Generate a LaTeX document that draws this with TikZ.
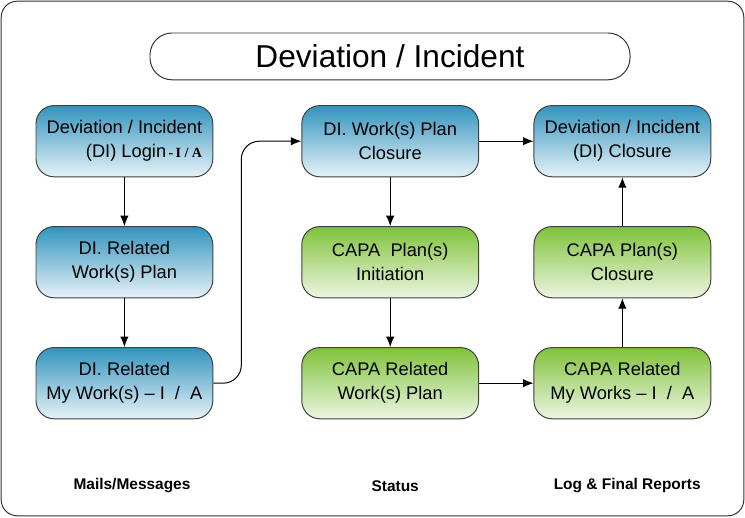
\documentclass[tikz,border=0pt]{standalone}
\usepackage{fontspec}
\setmainfont{Liberation Sans}
\newfontfamily\timesbold{Liberation Serif}
\usetikzlibrary{arrows.meta,positioning}

\definecolor{diblue}{RGB}{50,148,190}
\definecolor{capagreen}{RGB}{128,194,58}

\begin{document}
\begin{tikzpicture}[
diboxnode/.style={rectangle, rounded corners=0.45cm, draw=black!75, line width=0.7pt,
  top color=diblue, bottom color=diblue!12, minimum width=4.42cm, minimum height=1.78cm,
  align=center, font=\fontsize{13}{17}\selectfont},
capanode/.style={diboxnode, top color=capagreen, bottom color=capagreen!15},
titlenode/.style={rectangle, rounded corners=0.55cm, draw=black!80, line width=0.7pt,
  minimum width=12cm, minimum height=1.17cm, font=\fontsize{22.5}{26}\selectfont},
colnode/.style={font=\fontsize{11}{13}\selectfont\bfseries},
flow/.style={line width=0.7pt, arrows={-Latex[length=2.6mm,width=2.1mm]}}]
\useasboundingbox (0,0) rectangle (18.625,-12.925);
\draw[line width=0.7pt, black!80, rounded corners=0.4cm] (0.03,-0.03) rectangle (18.595,-12.895);
% Title
\node[titlenode] (title) at (9.75,-1.41) {Deviation / Incident};
% Nodes
\node[diboxnode, align=right] (login) at (3.11,-3.53) {Deviation / Incident\\(DI) Login{\timesbold\bfseries\fontsize{10}{12}\selectfont\,-\,I / A}};
\node[diboxnode] (diplan) [below=1.22cm of login] {DI. Related\\Work(s) Plan};
\node[diboxnode] (mywork) [below=1.22cm of diplan] {DI. Related\\My Work(s) – I \ / \ A};
\node[diboxnode] (plclose) [right=2.2cm of login] {DI. Work(s) Plan\\Closure};
\node[capanode] (capainit) [below=1.22cm of plclose] {CAPA\ \ Plan(s)\\Initiation};
\node[capanode] (capaplan) [below=1.22cm of capainit] {CAPA Related\\Work(s) Plan};
\node[diboxnode] (diclose) [right=1.36cm of plclose] {Deviation / Incident\\(DI) Closure};
\node[capanode] (capaclose) [below=1.22cm of diclose] {CAPA Plan(s)\\Closure};
\node[capanode] (capawork) [below=1.22cm of capaclose] {CAPA Related\\My Works – I \ / \ A};
% Column labels
\node[colnode] (mails) at (3.3,-12.15) {Mails/Messages};
\node[colnode] (status) at (9.88,-12.15) {Status};
\node[colnode] (reports) at (15.68,-12.15) {Log \& Final Reports};
% Lines
\draw[flow] (login) -- (diplan);
\draw[flow] (diplan) -- (mywork);
\draw[flow, rounded corners=0.45cm] (mywork.east) -- ++(0.7,0) |- (plclose.west);
\draw[flow] (plclose) -- (diclose);
\draw[flow] (plclose) -- (capainit);
\draw[flow] (capainit) -- (capaplan);
\draw[flow] (capaplan) -- (capawork);
\draw[flow] (capawork) -- (capaclose);
\draw[flow] (capaclose) -- (diclose);
\end{tikzpicture}
\end{document}
